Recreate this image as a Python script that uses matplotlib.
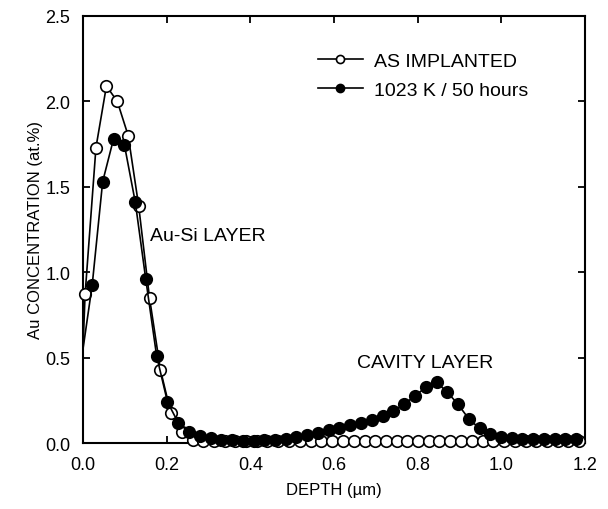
import matplotlib
matplotlib.use("Agg")
import matplotlib.pyplot as plt

plt.rcParams['font.family'] = ['Liberation Sans', 'DejaVu Sans']

# AS IMPLANTED (open circles); first point at x=0 is only the line start
depth_open = [0.0, 0.005, 0.031, 0.056, 0.082, 0.108, 0.133, 0.159, 0.185, 0.210,
              0.236, 0.262, 0.287, 0.313, 0.339, 0.364, 0.390, 0.416, 0.441, 0.467,
              0.493, 0.518, 0.544, 0.570, 0.596, 0.621, 0.647, 0.673, 0.698, 0.724,
              0.750, 0.775, 0.801, 0.827, 0.852, 0.878, 0.904, 0.929, 0.955, 0.981,
              1.006, 1.032, 1.058, 1.083, 1.109, 1.135, 1.160, 1.186]
conc_open = [0.55, 0.87, 1.73, 2.09, 2.00, 1.80, 1.39, 0.85, 0.43, 0.175,
             0.065, 0.02, 0.01, 0.01, 0.01, 0.01, 0.01, 0.01, 0.01, 0.01,
             0.01, 0.01, 0.01, 0.01, 0.01, 0.012, 0.012, 0.012, 0.012, 0.012,
             0.012, 0.012, 0.012, 0.012, 0.012, 0.012, 0.012, 0.012, 0.012, 0.012,
             0.012, 0.012, 0.012, 0.012, 0.012, 0.012, 0.012, 0.012]

# 1023 K / 50 hours (filled circles)
depth_fill = [0.0, 0.022, 0.047, 0.073, 0.099, 0.125, 0.150, 0.176, 0.202, 0.228,
              0.253, 0.279, 0.305, 0.330, 0.356, 0.382, 0.408, 0.433, 0.459, 0.485,
              0.510, 0.536, 0.562, 0.588, 0.613, 0.639, 0.665, 0.690, 0.716, 0.742,
              0.768, 0.793, 0.819, 0.845, 0.870, 0.896, 0.922, 0.948, 0.973, 0.999,
              1.025, 1.050, 1.076, 1.102, 1.128, 1.153, 1.179]
conc_fill = [0.55, 0.925, 1.53, 1.78, 1.745, 1.41, 0.96, 0.51, 0.24, 0.117,
             0.065, 0.04, 0.03, 0.02, 0.015, 0.012, 0.012, 0.015, 0.02, 0.025,
             0.035, 0.048, 0.06, 0.074, 0.088, 0.103, 0.118, 0.135, 0.158, 0.188,
             0.228, 0.275, 0.325, 0.355, 0.30, 0.228, 0.142, 0.085, 0.05, 0.035,
             0.028, 0.025, 0.024, 0.023, 0.023, 0.022, 0.022]

label_open = "AS IMPLANTED"
label_fill = "1023 K / 50 hours"
xticks = [0.0, 0.2, 0.4, 0.6, 0.8, 1.0, 1.2]
yticks = [0.0, 0.5, 1.0, 1.5, 2.0, 2.5]

fig = plt.figure(figsize=(6.08, 5.10), dpi=100)
ax = fig.add_axes([0.1365, 0.1294, 0.8257, 0.8373])

ax.plot(depth_open, conc_open, color='black', lw=1.2, marker='o', ms=8.3,
        mfc='white', mec='black', mew=1.2, markevery=list(range(1, len(depth_open))),
        label=label_open, clip_on=False, zorder=3)
ax.plot(depth_fill, conc_fill, color='black', lw=1.2, marker='o', ms=8.3,
        mfc='black', mec='black', mew=1.2, markevery=list(range(1, len(depth_fill))),
        label=label_fill, clip_on=False, zorder=4)

ax.set_xlim(0, 1.2)
ax.set_ylim(0, 2.5)
ax.set_xticks(xticks)
ax.set_yticks(yticks)
ax.set_xticklabels([f"{v:.1f}" for v in xticks])
ax.set_yticklabels([f"{v:.1f}" for v in yticks])
ax.tick_params(direction='in', length=5, width=1.3, top=True, right=True,
               labelsize=13, pad=9)
for s in ax.spines.values():
    s.set_linewidth(1.5)

ax.set_xlabel("DEPTH (\u00b5m)", fontsize=12, labelpad=7)
ax.set_ylabel("Au CONCENTRATION (at.%)", fontsize=12, labelpad=2)

ax.text(0.160, 1.212, "Au-Si LAYER", fontsize=14, ha='left', va='center')
ax.text(0.655, 0.474, "CAVITY LAYER", fontsize=14, ha='left', va='center')

leg = ax.legend(loc='upper left', bbox_to_anchor=(0.468, 0.9157), frameon=False,
                fontsize=14, borderpad=0, borderaxespad=0, handlelength=2.3,
                handletextpad=0.6, labelspacing=0.6, markerscale=0.7)

fig.savefig("out.png", dpi=100)
